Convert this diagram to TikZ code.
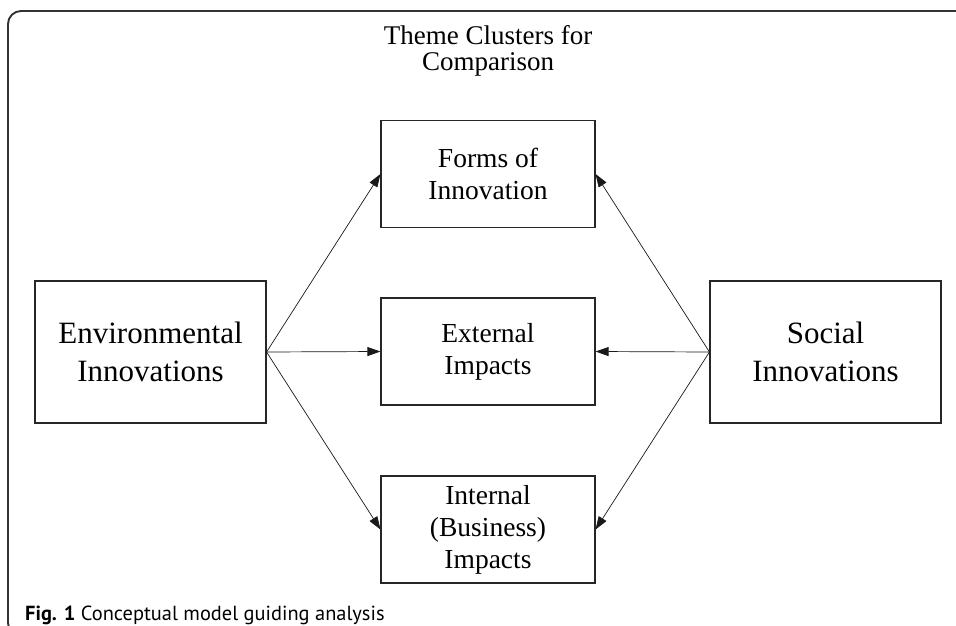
\documentclass[tikz,border=0pt]{standalone}
\usepackage{fontspec}
\setmainfont{Liberation Serif}
\newfontfamily\capfont{PT Sans}
\usetikzlibrary{arrows.meta}

\begin{document}
\begin{tikzpicture}[x=1pt, y=-1pt,
    box/.style={draw=black!85, line width=1.1pt, align=center, inner sep=0pt},
    midbox/.style={box, minimum width=214pt, minimum height=107pt, font=\fontsize{27.5}{32}\selectfont},
    bigbox/.style={box, minimum width=231pt, minimum height=142pt, font=\fontsize{31}{38}\selectfont},
    link/.style={-{Triangle[length=13pt,width=9pt]}, line width=0.7pt, black!90}]
    \useasboundingbox (0,0) rectangle (956,626);
    \clip (0,0) rectangle (956,626);
    \draw[line width=1.9pt, black!80, rounded corners=13pt] (8,11) rectangle (1000,636);

    \node[align=center, font=\fontsize{27}{26}\selectfont] (title) at (488,51) {Theme Clusters for\\Comparison};

    \node[midbox] (forms) at (488,174) {Forms of\\Innovation};
    \node[midbox] (external) at (488,351.5) {External\\Impacts};
    \node[midbox] (internal) at (488,529.5) {Internal\\(Business)\\Impacts};
    \node[bigbox] (env) at (150.5,352) {Environmental\\Innovations};
    \node[bigbox] (social) at (825.5,352) {Social\\Innovations};

    \foreach \t in {forms,external,internal} {
        \draw[link] (env.east) -- (\t.west);
        \draw[link] (social.west) -- (\t.east);
    }

    \node[anchor=base west, font=\capfont\fontsize{20.4}{24}\selectfont, inner sep=0pt] (caption) at (25,620) {\textbf{Fig. 1} Conceptual model guiding analysis};
\end{tikzpicture}
\end{document}
